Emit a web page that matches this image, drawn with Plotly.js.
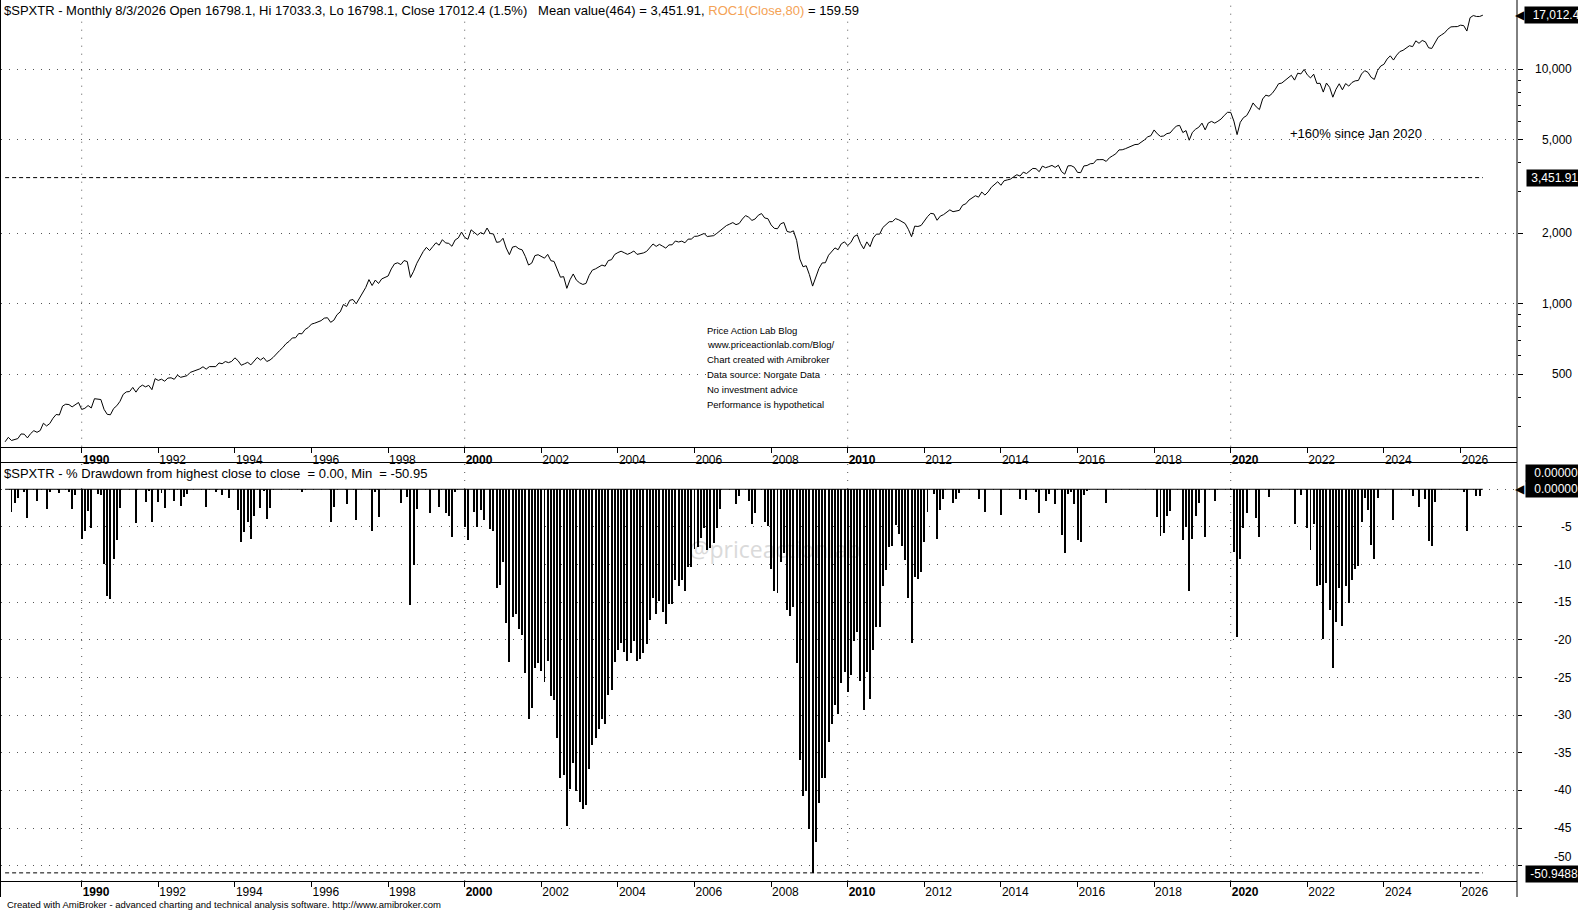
<!DOCTYPE html>
<html><head><meta charset="utf-8">
<script src="https://cdn.plot.ly/plotly-3.0.1.min.js"></script>
<style>html,body{margin:0;padding:0;background:#fff;overflow:hidden}#chart{width:1578px;height:911px}</style>
</head><body><div id="chart"></div>
<script>
// ---- data (monthly bars, first bar Jan 1988, last bar Aug 2026) ----
const START_YEAR = 1988;
const closes = [
257.9,269.5,261.3,264.6,266.2,278.6,277.9,268.0,279.6,287.7,283.1,288.1,
309.5,301.4,308.6,325.0,337.3,335.6,366.3,373.1,371.7,363.4,370.4,379.4,
354.4,358.5,368.3,359.5,393.8,391.5,390.6,354.8,337.7,336.4,357.6,367.6,
383.9,410.9,421.1,422.4,439.9,420.0,440.0,449.9,442.4,448.9,430.3,479.6,
471.3,477.0,467.7,482.0,483.6,476.4,496.4,485.7,491.3,493.6,509.8,516.2,
521.1,527.8,538.9,526.4,539.6,541.3,539.6,559.5,555.2,567.2,561.2,568.2,
588.1,571.8,547.0,554.6,562.8,549.0,567.7,590.4,575.9,589.3,567.4,575.7,
590.9,613.6,631.7,650.7,675.8,691.7,715.2,716.5,746.8,744.7,776.9,792.1,
819.4,826.7,834.8,847.5,868.5,872.1,833.7,851.0,898.7,923.9,993.5,973.9,
1035.2,1042.9,999.9,1059.9,1123.7,1174.2,1267.9,1196.8,1262.3,1220.6,1276.9,1298.8,
1313.7,1408.0,1480.2,1495.4,1469.1,1529.0,1513.1,1294.1,1376.6,1488.9,1578.9,1670.0,
1740.3,1686.0,1753.2,1821.6,1778.0,1876.8,1818.5,1809.1,1759.2,1871.2,1908.9,2021.4,
1920.3,1883.6,2067.7,2005.9,1964.0,2012.9,1981.9,2104.3,1993.6,1985.6,1828.5,1837.5,
1903.3,1729.6,1620.3,1746.6,1757.5,1715.4,1698.7,1591.7,1463.1,1491.2,1605.1,1619.0,
1596.0,1565.0,1624.7,1527.1,1515.2,1407.4,1298.0,1306.0,1164.0,1266.3,1340.4,1261.2,
1228.5,1209.4,1221.4,1322.4,1391.7,1409.6,1434.7,1462.4,1447.1,1529.0,1542.1,1622.9,
1653.3,1675.9,1650.8,1625.4,1647.4,1679.5,1624.3,1630.3,1647.9,1673.4,1740.4,1799.5,
1756.7,1792.6,1761.1,1728.3,1782.8,1785.3,1852.4,1834.4,1850.0,1819.9,1886.8,1887.9,
1939.0,1943.0,1967.6,1994.7,1936.2,1939.3,1952.4,1997.1,2049.3,2117.2,2155.4,2186.0,
2220.2,2175.2,2200.4,2299.2,2377.8,2339.1,2267.8,2300.6,2386.6,2425.7,2322.6,2306.0,
2169.4,2098.1,2089.9,2193.7,2221.4,2034.6,2018.4,2047.2,1864.9,1552.0,1438.6,1452.8,
1331.1,1189.8,1291.1,1415.3,1493.3,1496.7,1610.9,1668.2,1731.3,1700.5,1801.5,1837.2,
1772.3,1825.8,1936.5,1968.4,1809.9,1715.3,1836.4,1752.1,1908.7,1982.3,1981.0,2113.9,
2165.6,2238.6,2240.3,2308.2,2280.9,2243.2,2198.9,2077.6,1931.9,2143.8,2136.5,2158.5,
2256.9,2353.1,2431.3,2417.7,2270.5,2364.9,2399.0,2451.1,2515.3,2470.2,2481.7,2503.9,
2634.9,2668.9,2769.8,2825.0,2888.7,2850.5,2996.7,2908.0,2999.9,3139.1,3232.9,3314.9,
3202.4,3346.3,3375.3,3402.0,3479.5,3551.7,3504.2,3642.3,3591.9,3681.5,3778.2,3768.7,
3658.2,3866.0,3805.3,3844.4,3891.7,3816.6,3898.6,3661.2,3570.5,3873.4,3882.3,3820.7,
3633.7,3625.3,3871.7,3889.2,3956.1,3966.8,4115.7,4118.1,4120.6,4047.8,4193.8,4277.7,
4361.5,4531.3,4537.1,4586.0,4646.8,4677.2,4775.6,4786.1,4886.5,5003.2,5152.2,5211.5,
5513.2,5307.2,5173.2,5195.7,5316.7,5351.1,5552.9,5730.2,5764.1,5373.0,5477.8,4983.2,
5384.4,5553.7,5662.8,5895.2,5516.8,5907.1,5994.4,5895.9,6007.1,6140.1,6359.5,6553.6,
6551.7,6009.8,5266.1,5943.1,6221.7,6345.7,6705.5,7186.5,6915.0,6733.8,7469.3,7758.1,
7680.7,7890.6,8235.0,8677.2,8734.9,8939.7,9153.6,9429.8,8992.0,9624.8,9556.0,9984.2,
9472.3,9187.9,9529.7,8703.1,8715.5,7995.1,8735.6,8376.3,7604.0,8222.5,8676.4,8175.9,
8692.5,8477.5,8786.5,8927.3,8962.0,9555.0,9865.8,9704.5,9244.2,9053.1,9874.2,10324.8,
10501.0,11057.0,11413.0,10950.6,11489.6,11901.7,12050.2,12339.5,12603.1,12492.7,13223.6,12907.9,
13269.8,13094.5,12353.4,12272.0,13040.0,13700.5,14012.0,14293.3,14813.6,15164.7,15199.5,15207.3,
15420.0,15358.0,14556.0,16600.0,16951.0,16800.0,16798.1,17012.4
];
const drawdown = [
0,0,-3.0,-1.8,-1.2,0,-0.3,-3.8,0,0,-1.6,0,
0,-2.6,-0.3,0,0,-0.5,0,0,-0.4,-2.6,-0.7,0,
-6.6,-5.5,-2.9,-5.2,0,-0.6,-0.8,-9.9,-14.2,-14.6,-9.2,-6.7,
-2.5,0,0,0,0,-4.5,0,0,-1.7,-0.2,-4.4,0,
-1.7,-0.5,-2.5,0,0,-1.5,0,-2.2,-1.0,-0.6,0,0,
0,0,0,-2.3,0,0,-0.3,0,-0.8,0,-1.1,0,
0,-2.8,-7.0,-5.7,-4.3,-6.6,-3.5,0,-2.5,-0.2,-3.9,-2.5,
0,0,0,0,0,0,0,0,0,-0.3,0,0,
0,0,0,0,0,0,-4.4,-2.4,0,0,0,-2.0,
0,0,-4.1,0,0,0,0,-5.6,-0.4,-3.7,0,0,
0,0,0,0,-1.8,0,-1.0,-15.4,-10.0,-2.6,0,0,
0,-3.1,0,0,-2.4,0,-3.1,-3.6,-6.3,-0.3,0,0,
-5.0,-6.8,0,-3.0,-5.0,-2.7,-4.1,0,-5.3,-5.6,-13.1,-12.7,
-9.6,-17.8,-23.0,-17.0,-16.5,-18.5,-19.3,-24.4,-30.5,-29.1,-23.7,-23.1,
-24.2,-25.6,-22.8,-27.4,-28.0,-33.1,-38.3,-37.9,-44.7,-39.8,-36.3,-40.1,
-41.6,-42.5,-42.0,-37.2,-33.9,-33.0,-31.8,-30.5,-31.2,-27.3,-26.7,-22.9,
-21.4,-20.4,-21.6,-22.8,-21.7,-20.2,-22.8,-22.5,-21.7,-20.5,-17.3,-14.5,
-16.5,-14.8,-16.3,-17.9,-15.3,-15.2,-12.0,-12.8,-12.1,-13.5,-10.3,-10.3,
-7.9,-7.7,-6.5,-5.2,-8.0,-7.8,-7.2,-5.1,-2.6,0,0,0,
0,-2.0,-0.9,0,0,-1.6,-4.6,-3.2,0,0,-4.3,-4.9,
-10.6,-13.5,-13.8,-9.6,-8.4,-16.1,-16.8,-15.6,-23.1,-36.0,-40.7,-40.1,
-45.1,-50.9488,-46.8,-41.7,-38.4,-38.3,-33.6,-31.2,-28.6,-29.9,-25.7,-24.3,
-26.9,-24.7,-20.2,-18.9,-25.4,-29.3,-24.3,-27.8,-21.3,-18.3,-18.3,-12.9,
-10.7,-7.7,-7.6,-4.8,-6.0,-7.5,-9.4,-14.4,-20.4,-11.6,-11.9,-11.0,
-7.0,-3.0,0,-0.6,-6.6,-2.7,-1.3,0,0,-1.8,-1.3,-0.5,
0,0,0,0,0,-1.3,0,-3.0,0,0,0,0,
-3.4,0,0,0,0,0,-1.3,0,-1.4,0,0,-0.3,
-3.2,0,-1.6,-0.6,0,-1.9,0,-6.1,-8.4,-0.6,-0.4,-2.0,
-6.8,-7.0,-0.7,-0.2,0,0,0,0,0,-1.8,0,0,
0,0,0,0,0,0,0,0,0,0,0,0,
0,-3.7,-6.2,-5.8,-3.6,-2.9,0,0,0,-6.8,-5.0,-13.5,
-6.6,-3.6,-1.8,0,-6.4,0,0,-1.6,0,0,0,0,
-0.03,-8.3,-19.6,-9.3,-5.1,-3.2,0,0,-3.8,-6.3,0,0,
-1.0,0,0,0,0,0,0,0,-4.6,0,-0.7,0,
-5.1,-8.0,-4.6,-12.8,-12.7,-19.9,-12.5,-16.1,-23.8,-17.6,-13.1,-18.1,
-12.9,-15.1,-12.0,-10.6,-10.2,-4.3,-1.2,-2.8,-7.4,-9.3,-1.1,0,
0,0,0,-4.1,0,0,0,0,0,-0.9,0,-2.4,
0,-1.3,-6.9,-7.5,-1.7,0,0,0,0,0,0,0,
0,-0.4,-5.6,0,0,-0.9,-0.9,0
];
const yearTicks = [1990,1992,1994,1996,1998,2000,2002,2004,2006,2008,2010,2012,2014,2016,2018,2020,2022,2024,2026];
const decadeYears = [1990,2000,2010,2020];
const priceTicks = [500,1000,2000,5000,10000];
const priceTickText = ['500','1,000','2,000','5,000','10,000'];
const priceMinorTicks = [300,400,600,700,800,900,3000,4000,6000,7000,8000,9000];
const ddTicks = [-5,-10,-15,-20,-25,-30,-35,-40,-45,-50];
const MEAN_VALUE = 3451.91;
const MIN_DD = -50.9488;
const infoLines = ['Price Action Lab Blog','www.priceactionlab.com/Blog/','Chart created with Amibroker','Data source: Norgate Data','No investment advice','Performance is hypothetical'];

// ---- layout helpers ----
const W = 1578, H = 911;
const M = {l: 1, r: 61, t: 0, b: 30};
const PW = W - M.l - M.r, PH = H - M.t - M.b;
const px = p => (p - M.l) / PW;
const py = p => (PH + M.t - p) / PH;
const FONT = 'Liberation Sans, Arial, sans-serif';
const NB = '\u00A0';

const idx = closes.map((_, i) => i);
const last = closes.length - 1;
const tickIdx = yearTicks.map(y => (y - START_YEAR) * 12);
const tickText = yearTicks.map(y => y % 10 === 0 ? '<b>' + y + '</b>' : String(y));

const topDom = [py(446.7), 1];
const botDom = [0, py(463.3)];

const traces = [
  {type: 'scatter', mode: 'lines', x: idx, y: closes, xaxis: 'x', yaxis: 'y',
   line: {color: '#000', width: 1}, hoverinfo: 'skip'},
  {type: 'bar', x: idx, y: drawdown, xaxis: 'x2', yaxis: 'y2', width: 0.62,
   marker: {color: '#000', line: {width: 0}}, hoverinfo: 'skip'}
];

const xCommon = {
  range: [-1.285, 473.7], tickmode: 'array', tickvals: tickIdx, ticktext: tickText,
  ticks: 'outside', ticklen: 5, tickcolor: '#000', tickwidth: 1,
  showline: true, linecolor: '#000', linewidth: 1, showgrid: false, zeroline: false,
  ticklabelposition: 'outside right',
  tickfont: {family: FONT, size: 12, color: '#000'},
  fixedrange: true
};
const gridStyle = {showgrid: true, gridcolor: '#555', gridwidth: 1, griddash: '1px,7px'};

const shapes = [];
// frame verticals
shapes.push({type: 'line', xref: 'paper', yref: 'paper', x0: px(0.5), x1: px(0.5), y0: py(0), y1: py(897), line: {color: '#000', width: 1}});
shapes.push({type: 'line', xref: 'paper', yref: 'paper', x0: 1, x1: 1, y0: py(0), y1: py(897), line: {color: '#000', width: 1}});
// decade gridlines in both panes
decadeYears.forEach(y => {
  const v = (y - START_YEAR) * 12;
  shapes.push({type: 'line', layer: 'below', xref: 'x', yref: 'paper', x0: v, x1: v, y0: topDom[0], y1: topDom[1], line: {color: '#555', width: 1, dash: '1px,7px'}});
  shapes.push({type: 'line', layer: 'below', xref: 'x2', yref: 'paper', x0: v, x1: v, y0: botDom[0], y1: botDom[1], line: {color: '#555', width: 1, dash: '1px,7px'}});
});
// mean line, zero line, min line
shapes.push({type: 'line', xref: 'x', yref: 'y', x0: idx[0], x1: idx[last], y0: MEAN_VALUE, y1: MEAN_VALUE, line: {color: '#000', width: 1, dash: '4px,3px'}});
shapes.push({type: 'line', xref: 'x2', yref: 'y2', x0: idx[0], x1: idx[last], y0: 0, y1: 0, line: {color: '#000', width: 1}});
shapes.push({type: 'line', xref: 'x2', yref: 'y2', x0: idx[0], x1: idx[last], y0: MIN_DD, y1: MIN_DD, line: {color: '#000', width: 1, dash: '4px,3px'}});
// watermark (behind bars)
shapes.push({type: 'rect', layer: 'below', xref: 'paper', yref: 'paper', x0: px(686), x1: px(864), y0: py(566), y1: py(536),
  line: {width: 0}, fillcolor: 'rgba(0,0,0,0)',
  label: {text: '@priceactionlab', textposition: 'middle center', font: {family: 'Open Sans, sans-serif', size: 23, color: '#dadada'}}});

const ann = [];
const fmt = (v, d) => v.toLocaleString('en-US', {minimumFractionDigits: d, maximumFractionDigits: d});
const header = '$SPXTR - Monthly 8/3/2026 Open 16798.1, Hi 17033.3, Lo 16798.1, Close ' + closes[last].toFixed(1) + ' (1.5%)' + NB + NB + NB +
  'Mean value(' + closes.length + ') = ' + fmt(MEAN_VALUE, 2) + ', <span style="color:#F4A255">ROC1(Close,80)</span> = 159.59';
ann.push({xref: 'paper', yref: 'paper', x: px(3), y: py(10.5), xanchor: 'left', yanchor: 'middle', text: header, showarrow: false,
  font: {family: FONT, size: 13, color: '#000'}, bgcolor: '#fff', borderpad: 0});
ann.push({xref: 'paper', yref: 'paper', x: px(3), y: py(473), xanchor: 'left', yanchor: 'middle',
  text: '$SPXTR - % Drawdown from highest close to close' + NB + ' = ' + drawdown[last].toFixed(2) + ', Min' + NB + ' = ' + MIN_DD.toFixed(2),
  showarrow: false, font: {family: FONT, size: 13, color: '#000'}, bgcolor: '#fff', borderpad: 0});
ann.push({xref: 'paper', yref: 'paper', x: px(5), y: py(904.5), xanchor: 'left', yanchor: 'middle',
  text: 'Created with AmiBroker - advanced charting and technical analysis software. http://www.amibroker.com',
  showarrow: false, font: {family: FONT, size: 9.5, color: '#000'}});
infoLines.forEach((t, i) => {
  ann.push({xref: 'paper', yref: 'paper', x: px(706), y: py(330 + i * 14.9), xanchor: 'left', yanchor: 'middle', text: t,
    showarrow: false, font: {family: FONT, size: 9.5, color: '#000'}, bgcolor: '#fff', borderpad: 0});
});
ann.push({xref: 'paper', yref: 'paper', x: px(1288), y: py(133), xanchor: 'left', yanchor: 'middle', text: '+160% since Jan 2020',
  showarrow: false, font: {family: FONT, size: 13, color: '#000'}});
// right axis labels
priceTicks.forEach((v, i) => {
  ann.push({xref: 'paper', yref: 'y', x: px(1574), y: Math.log10(v), xanchor: 'right', yanchor: 'middle', text: priceTickText[i],
    showarrow: false, font: {family: FONT, size: 12, color: '#000'}});
});
ddTicks.forEach(v => {
  ann.push({xref: 'paper', yref: 'y2', x: px(1574), y: v, xanchor: 'right', yanchor: 'middle', text: String(v),
    showarrow: false, font: {family: FONT, size: 12, color: '#000'},
    yshift: v === ddTicks[ddTicks.length - 1] ? 9 : 0});
});
// value boxes
function box(text, yref, y, left, width, align, yshift) {
  return {xref: 'paper', yref: yref, x: px(left), y: y, xanchor: 'left', yanchor: 'middle', text: text, showarrow: false,
    width: width, height: 14, align: align, valign: 'middle', bgcolor: '#000', borderpad: 1, yshift: yshift || 0,
    font: {family: FONT, size: 12, color: '#fff'}};
}
function arrow(yref, y) {
  return {xref: 'paper', yref: yref, x: px(1527), y: y, xanchor: 'right', yanchor: 'middle', text: '\u25C0', showarrow: false,
    font: {family: 'DejaVu Sans, sans-serif', size: 12, color: '#000'}};
}
ann.push(box(NB + NB + fmt(closes[last], 1), 'y', Math.log10(closes[last]), 1524, 58, 'left'));
ann.push(arrow('y', Math.log10(closes[last])));
ann.push(box(NB + fmt(MEAN_VALUE, 2), 'y', Math.log10(MEAN_VALUE), 1526, 56, 'left'));
ann.push(box(drawdown[last].toFixed(5), 'y2', drawdown[last], 1525, 51, 'right', 16));
ann.push(box(drawdown[last].toFixed(5), 'y2', drawdown[last], 1525, 51, 'right'));
ann.push(arrow('y2', drawdown[last]));
ann.push(box(MIN_DD.toFixed(4), 'y2', MIN_DD, 1525, 51, 'right', -1));

const layout = {
  width: W, height: H, margin: M, paper_bgcolor: '#fff', plot_bgcolor: '#fff',
  showlegend: false, hovermode: false, dragmode: false, bargap: 0,
  font: {family: FONT, size: 12, color: '#000'},
  xaxis: Object.assign({}, xCommon, {anchor: 'y', domain: [0, 1], ticklabelstandoff: 2}),
  xaxis2: Object.assign({}, xCommon, {anchor: 'y2', domain: [0, 1], mirror: true}),
  yaxis: Object.assign({domain: topDom, type: 'log', range: [2.3906, 4.2955], side: 'right', anchor: 'x',
    tickmode: 'array', tickvals: priceTicks, showticklabels: false, ticks: 'outside', ticklen: 5, tickcolor: '#000',
    zeroline: false, showline: false, fixedrange: true,
    minor: {tickmode: 'array', tickvals: priceMinorTicks, ticks: 'outside', ticklen: 3, tickcolor: '#000', showgrid: false}}, gridStyle),
  yaxis2: Object.assign({domain: botDom, range: [-52.03, 3.451], side: 'right', anchor: 'x2',
    tickmode: 'array', tickvals: [0].concat(ddTicks), showticklabels: false, ticks: 'outside', ticklen: 4, tickcolor: '#000',
    zeroline: false, showline: false, fixedrange: true}, gridStyle),
  shapes: shapes, annotations: ann
};
Plotly.newPlot('chart', traces, layout, {staticPlot: true, displayModeBar: false});
</script></body></html>
